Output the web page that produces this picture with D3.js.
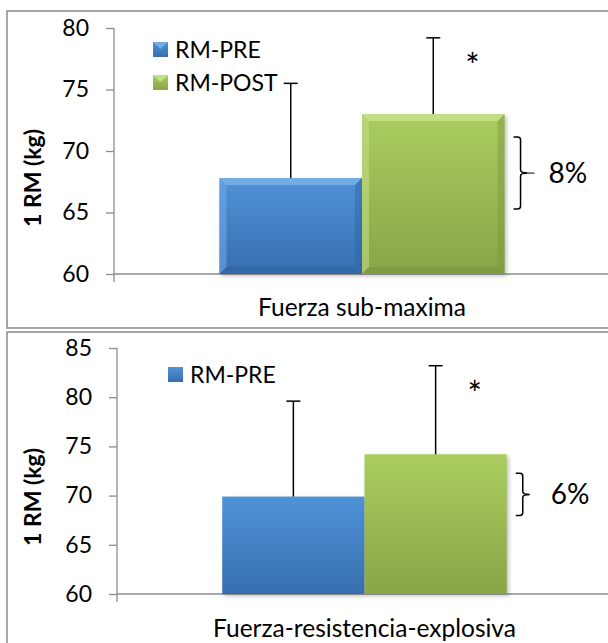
<!doctype html>
<html lang="es">
<head>
  <meta charset="utf-8">
  <title>1 RM pre / post</title>
  <script src="https://d3js.org/d3.v7.min.js"></script>
  <style>
    body { margin: 0; background: #fff; }
    svg text { font-family: Lato, "Open Sans", sans-serif; fill: #000; }
  </style>
</head>
<body>
  <div id="chart"></div>
  <script type="text/javascript">

    var width = 608, height = 643;

    // data
    var categories = ['Fuerza sub-maxima', 'Fuerza-resistencia-explosiva'];
    var series = ['RM-PRE', 'RM-POST'];
    var preMeans = [67.8, 69.9];
    var preSD = [7.7, 9.7];
    var postMeans = [73.0, 74.2];
    var postSD = [6.2, 9.0];
    var pctLabels = ['8%', '6%'];
    var yDomains = [[60, 80], [60, 85]];
    var yTicks = [[60, 65, 70, 75, 80], [60, 65, 70, 75, 80, 85]];
    var legendShown = [['RM-PRE', 'RM-POST'], ['RM-PRE']];

    // layout of each panel (pixels)
    var panels = [
      { box: [7, 11, 620, 317], axisX: 114, yTop: 28, yBot: 274, right: 610, bevel: true,
        leg: [153, 42], labelY: 316, titleY: 178, brace: [23, 31] },
      { box: [7, 332, 620, 330], axisX: 117, yTop: 348, yBot: 594, right: 612, bevel: false,
        leg: [168, 367], labelY: 637, titleY: 497, brace: [19, 19] }
    ];

    var colors = {
      'RM-PRE':  { top: '#4f92d8', bot: '#376fae', light: '#74ace6', dark: '#2f639f' },
      'RM-POST': { top: '#abcd5e', bot: '#88a548', light: '#c4de86', dark: '#7a9540' }
    };

    var svg = d3.select('#chart')
              .append('svg')
              .attr('width', width)
              .attr('height', height);

    var defs = svg.append('defs');
    series.forEach(function(s, i) {
      var g = defs.append('linearGradient')
                .attr('id', 'grad' + i)
                .attr('x1', 0).attr('y1', 0).attr('x2', 0).attr('y2', 1);
      g.append('stop').attr('offset', '0%').attr('stop-color', colors[s].top);
      g.append('stop').attr('offset', '100%').attr('stop-color', colors[s].bot);
    });
    var blur = defs.append('filter').attr('id', 'shadow')
                .attr('x', '-10%').attr('y', '-10%').attr('width', '130%').attr('height', '130%');
    blur.append('feGaussianBlur').attr('stdDeviation', 2);

    panels.forEach(function(p, k) {

      var g = svg.append('g');

      // panel frame
      g.append('rect')
        .attr('x', p.box[0]).attr('y', p.box[1])
        .attr('width', p.box[2]).attr('height', p.box[3])
        .attr('fill', '#fff')
        .attr('stroke', '#8a8a8a')
        .attr('stroke-width', 1.5);

      var y = d3.scaleLinear()
                .domain(yDomains[k])
                .range([p.yBot, p.yTop]);

      var x0 = d3.scaleBand()
                .domain([categories[k]])
                .range([p.axisX, p.right])
                .paddingInner(0.27)
                .paddingOuter(0.27);

      var x1 = d3.scaleBand()
                .domain(series)
                .range([0, x0.bandwidth()]);

      var rows = series.map(function(s, i) {
        return {
          s: s, i: i,
          mean: i === 0 ? preMeans[k] : postMeans[k],
          sd: i === 0 ? preSD[k] : postSD[k]
        };
      });

      // y axis
      var yAxis = d3.axisLeft(y)
                    .tickValues(yTicks[k])
                    .tickSize(8)
                    .tickPadding(17);
      var ax = g.append('g')
                .attr('transform', 'translate(' + p.axisX + ',0)')
                .call(yAxis);
      ax.select('.domain').remove();
      ax.selectAll('line').attr('stroke', '#8c8c8c').attr('stroke-width', 1.3);
      ax.selectAll('text')
        .attr('font-size', 23)
        .attr('font-family', 'Lato, sans-serif')
        .attr('fill', '#000');
      g.append('line')
        .attr('x1', p.axisX).attr('x2', p.axisX)
        .attr('y1', p.yTop).attr('y2', p.yBot + 8)
        .attr('stroke', '#8c8c8c').attr('stroke-width', 1.3);
      g.append('line')
        .attr('x1', p.axisX).attr('x2', width)
        .attr('y1', y(yDomains[k][0])).attr('y2', y(yDomains[k][0]))
        .attr('stroke', '#8c8c8c').attr('stroke-width', 1.3);

      // bars
      var bx = function(d) { return x0(categories[k]) + x1(d.s); };
      var bars = g.selectAll('.bar')
                .data(rows)
                .enter()
                .append('g')
                .attr('class', 'bar');

      bars.append('rect')
        .attr('x', function(d) { return bx(d) + 2; })
        .attr('y', function(d) { return y(d.mean) + 2; })
        .attr('width', x1.bandwidth())
        .attr('height', function(d) { return y(yDomains[k][0]) - y(d.mean); })
        .attr('fill', '#000')
        .attr('opacity', 0.25)
        .attr('filter', 'url(#shadow)');

      bars.append('rect')
        .attr('x', bx)
        .attr('y', function(d) { return y(d.mean); })
        .attr('width', x1.bandwidth())
        .attr('height', function(d) { return y(yDomains[k][0]) - y(d.mean); })
        .attr('fill', function(d) { return 'url(#grad' + d.i + ')'; });

      if (p.bevel) {
        var b = 7;
        bars.each(function(d) {
          var L = bx(d), R = L + x1.bandwidth(), T = y(d.mean), B = y(yDomains[k][0]);
          var c = colors[d.s];
          var sel = d3.select(this);
          sel.append('path')
            .attr('d', 'M' + L + ',' + T + 'L' + R + ',' + T + 'L' + (R - b) + ',' + (T + b) + 'L' + (L + b) + ',' + (T + b) + 'Z')
            .attr('fill', c.light);
          sel.append('path')
            .attr('d', 'M' + L + ',' + T + 'L' + (L + b) + ',' + (T + b) + 'L' + (L + b) + ',' + (B - b) + 'L' + L + ',' + B + 'Z')
            .attr('fill', c.light).attr('opacity', 0.55);
          sel.append('path')
            .attr('d', 'M' + R + ',' + T + 'L' + R + ',' + B + 'L' + (R - b) + ',' + (B - b) + 'L' + (R - b) + ',' + (T + b) + 'Z')
            .attr('fill', c.dark).attr('opacity', 0.45);
          sel.append('path')
            .attr('d', 'M' + L + ',' + B + 'L' + R + ',' + B + 'L' + (R - b) + ',' + (B - b) + 'L' + (L + b) + ',' + (B - b) + 'Z')
            .attr('fill', c.dark).attr('opacity', 0.6);
        });
      }

      // error bars (upper only)
      var ex = function(d) { return bx(d) + x1.bandwidth() / 2; };
      bars.append('line')
        .attr('x1', ex).attr('x2', ex)
        .attr('y1', function(d) { return y(d.mean); })
        .attr('y2', function(d) { return y(d.mean + d.sd); })
        .attr('stroke', '#000').attr('stroke-width', 1.5);
      bars.append('line')
        .attr('x1', function(d) { return ex(d) - 7; })
        .attr('x2', function(d) { return ex(d) + 7; })
        .attr('y1', function(d) { return y(d.mean + d.sd); })
        .attr('y2', function(d) { return y(d.mean + d.sd); })
        .attr('stroke', '#000').attr('stroke-width', 1.5);

      // significance mark
      var post = rows[1];
      g.append('text')
        .attr('x', bx(post) + x1.bandwidth() - 32)
        .attr('y', y(post.mean + post.sd) + 40)
        .attr('text-anchor', 'middle')
        .attr('font-size', 34)
        .text('*');

      // brace with percentage
      var bL = bx(post) + x1.bandwidth() + 9;
      var bT = y(post.mean) + p.brace[0], bB = y(rows[0].mean) + p.brace[1];
      var bM = (bT + bB) / 2, bw = 7, r = 3;
      var path = 'M' + bL + ',' + bT +
                 'L' + (bL + bw - r) + ',' + bT +
                 'Q' + (bL + bw) + ',' + bT + ' ' + (bL + bw) + ',' + (bT + r) +
                 'L' + (bL + bw) + ',' + (bM - r) +
                 'Q' + (bL + bw) + ',' + bM + ' ' + (bL + 2 * bw) + ',' + bM +
                 'Q' + (bL + bw) + ',' + bM + ' ' + (bL + bw) + ',' + (bM + r) +
                 'L' + (bL + bw) + ',' + (bB - r) +
                 'Q' + (bL + bw) + ',' + bB + ' ' + (bL + bw - r) + ',' + bB +
                 'L' + bL + ',' + bB;
      g.append('path')
        .attr('d', path)
        .attr('fill', 'none')
        .attr('stroke', '#000')
        .attr('stroke-width', 1.5);
      if (k === 0) {
        g.append('line')
          .attr('x1', bL + 2 * bw).attr('x2', bL + 3 * bw)
          .attr('y1', bM).attr('y2', bM)
          .attr('stroke', '#000').attr('stroke-width', 1);
      }
      g.append('text')
        .attr('x', bL + 35)
        .attr('y', bM + 10)
        .attr('font-size', 28)
        .text(pctLabels[k]);

      // category label
      g.append('text')
        .attr('x', x0(categories[k]) + x0.bandwidth() / 2)
        .attr('y', p.labelY)
        .attr('text-anchor', 'middle')
        .attr('font-size', 24.5)
        .text(categories[k]);

      // y title
      g.append('text')
        .attr('transform', 'translate(41,' + p.titleY + ') rotate(-90)')
        .attr('text-anchor', 'middle')
        .attr('font-size', 23)
        .attr('font-weight', 'bold')
        .text('1 RM (kg)');

      // legend
      var leg = g.selectAll('.leg')
                .data(legendShown[k])
                .enter()
                .append('g')
                .attr('class', 'leg')
                .attr('transform', function(d, i) {
                  return 'translate(' + p.leg[0] + ',' + (p.leg[1] + i * 33) + ')';
                });
      leg.append('rect')
        .attr('width', 15).attr('height', 15)
        .attr('fill', function(d) { return 'url(#grad' + series.indexOf(d) + ')'; });
      if (p.bevel) {
        leg.append('path')
          .attr('d', 'M0,0L15,0L7.5,7Z')
          .attr('fill', function(d) { return colors[d].light; });
      }
      leg.append('text')
        .attr('x', 22)
        .attr('y', 16)
        .attr('font-size', 23)
        .text(function(d) { return d; });
    });

  </script>
</body>
</html>
